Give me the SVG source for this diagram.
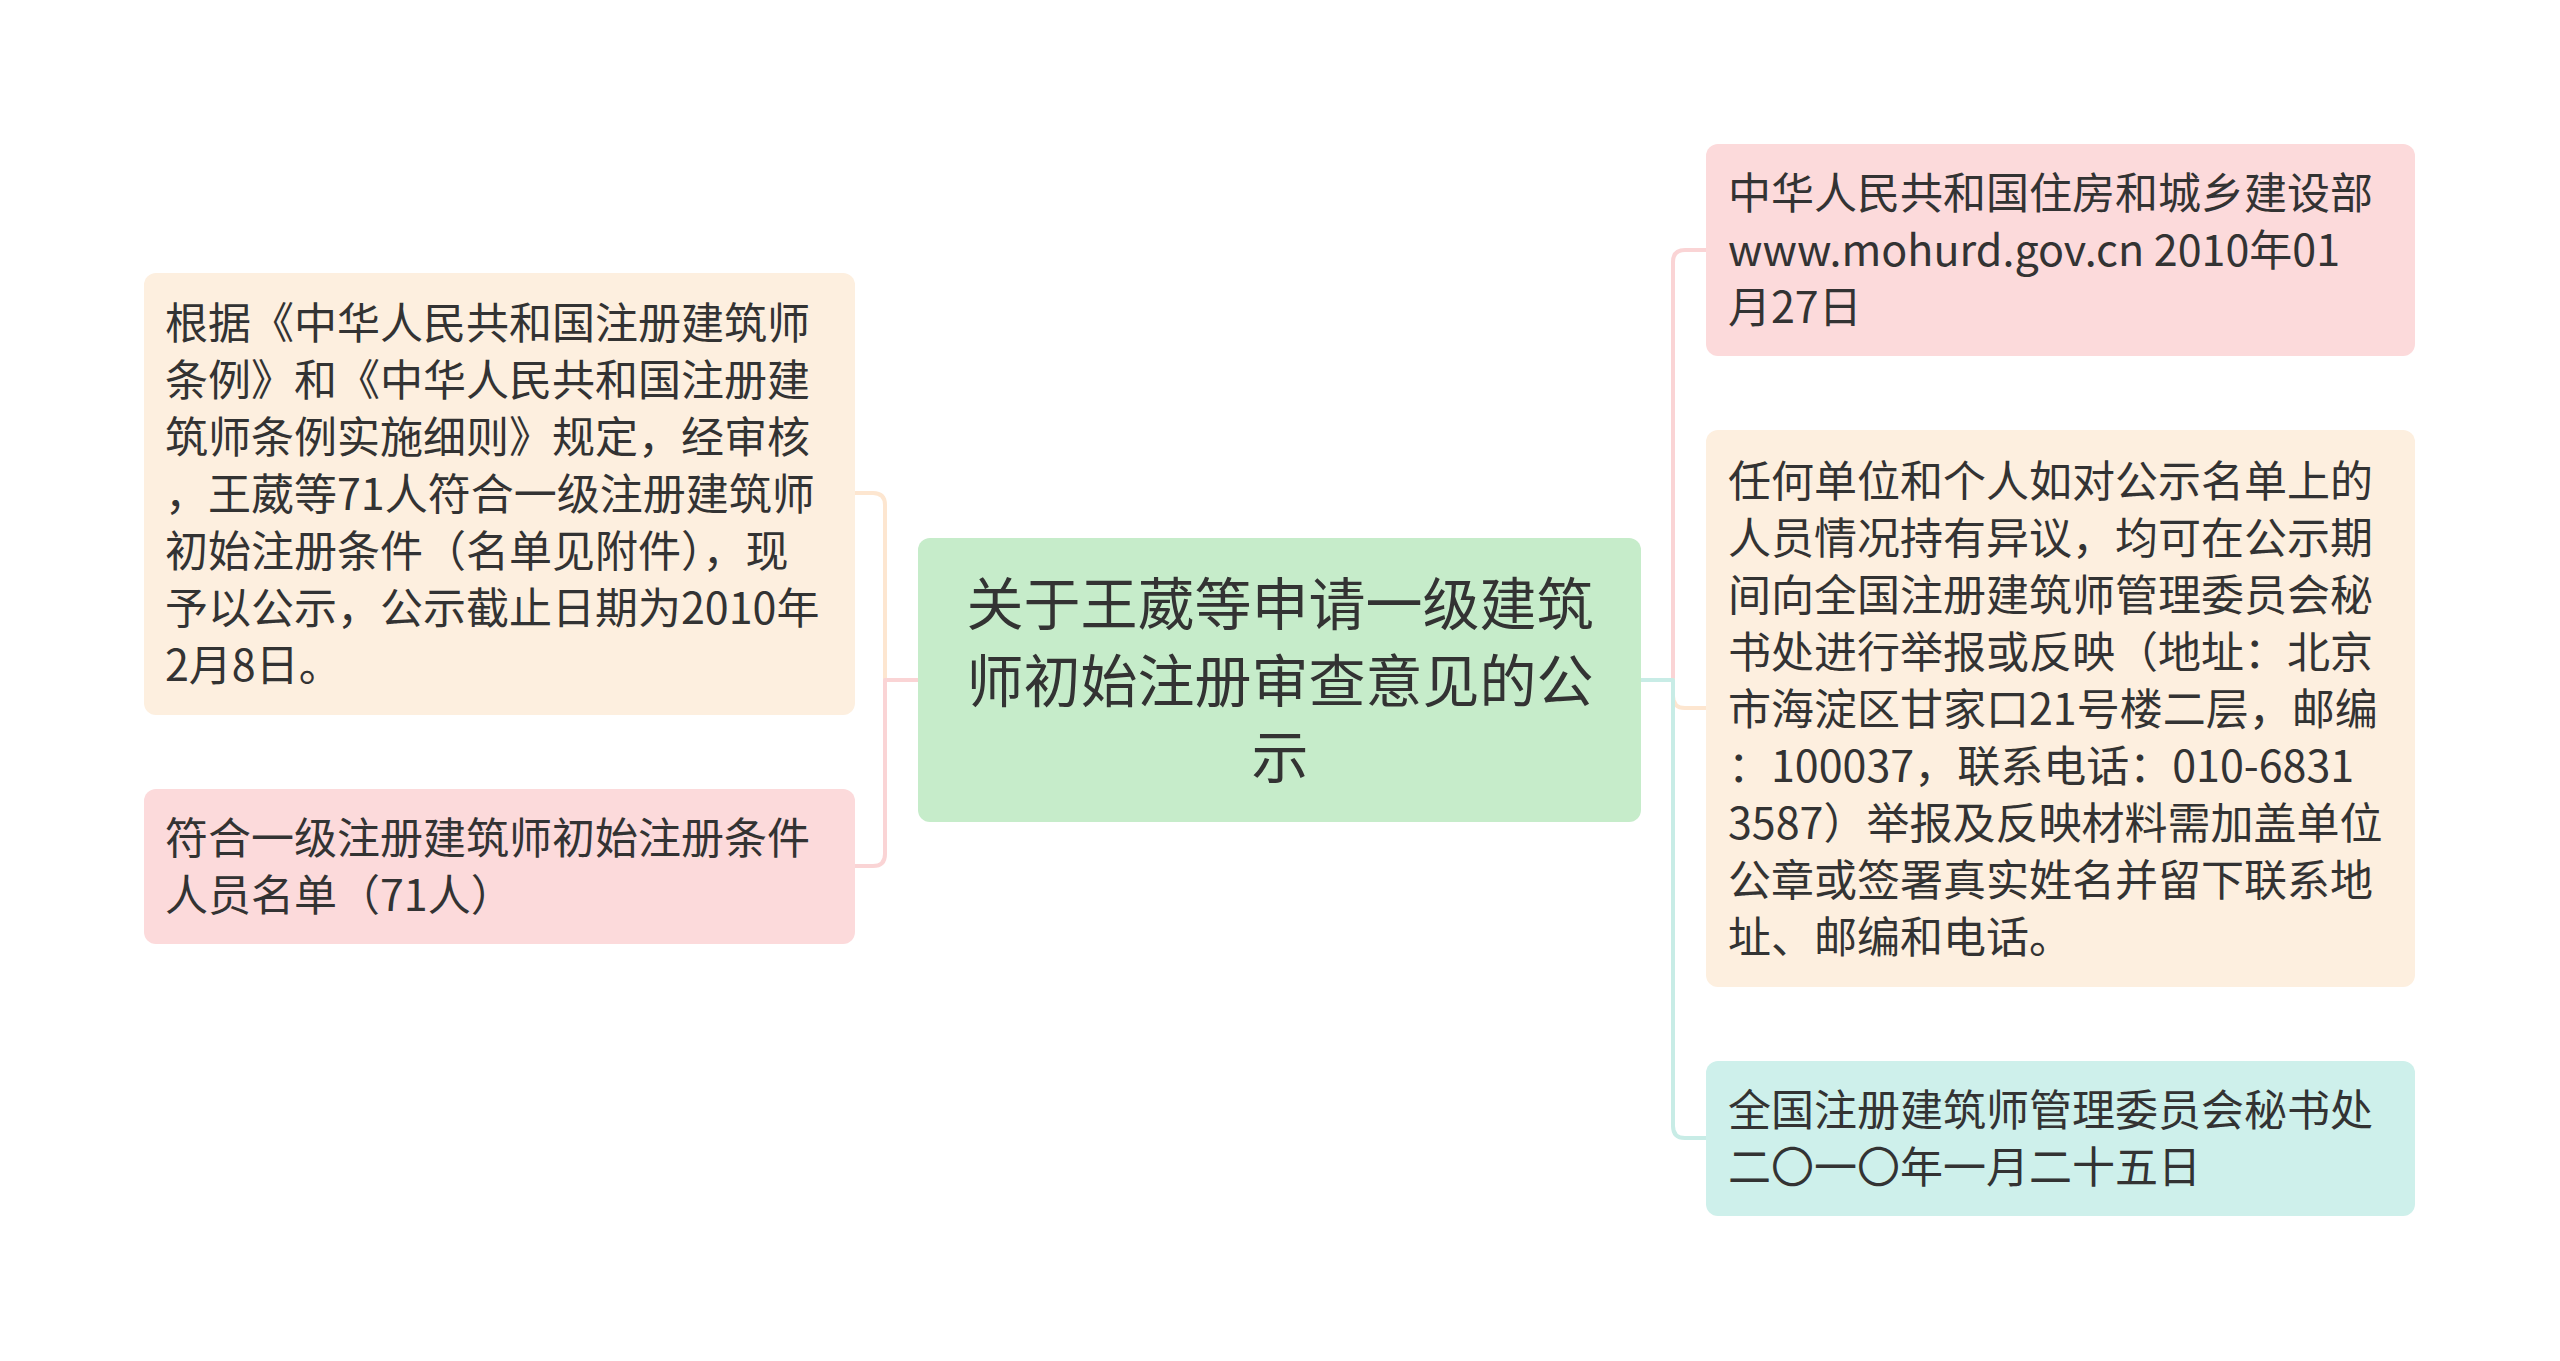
<svg xmlns="http://www.w3.org/2000/svg" width="2560" height="1361" viewBox="0 0 2560 1361">
<style>
.t{font-family:"Noto Sans CJK SC","Noto Sans",sans-serif;fill:#333333;font-size:43px}
.c{font-family:"Noto Sans CJK SC","Noto Sans",sans-serif;fill:#333333;font-size:57px;text-anchor:middle}
.ln{fill:none;stroke-width:4;stroke-linecap:round;stroke-linejoin:round}
</style>
<rect x="0" y="0" width="2560" height="1361" fill="#ffffff"/>
<g id="connectors">
<path class="ln" stroke="#fde6d0" d="M918,680 H885 V505 Q885,493 873,493 H854"/>
<path class="ln" stroke="#fad4d5" d="M918,680 H885 V854 Q885,866 873,866 H854"/>
<path class="ln" stroke="#fad4d5" d="M1641,680 H1673 V262 Q1673,250 1685,250 H1706"/>
<path class="ln" stroke="#fde6d0" d="M1641,680 H1673 V696 Q1673,708 1685,708 H1706"/>
<path class="ln" stroke="#c8ece6" d="M1641,680 H1673 V1126 Q1673,1138 1685,1138 H1706"/>
</g>
<g id="center">
<rect x="918" y="538" width="723" height="284" rx="12" fill="#c6ecca"/>
<text class="c" x="1280" y="625">关于王葳等申请一级建筑</text>
<text class="c" x="1280" y="701.5">师初始注册审查意见的公</text>
<text class="c" x="1280" y="778">示</text>
</g>
<g id="left1">
<rect x="144" y="273" width="711" height="442" rx="12" fill="#fdefdf"/>
<text class="t" x="165" y="339">根据《中华人民共和国注册建筑师</text>
<text class="t" x="165" y="396">条例》和《中华人民共和国注册建</text>
<text class="t" x="165" y="453">筑师条例实施细则》规定，经审核</text>
<text class="t" x="165" y="510">，王葳等71人符合一级注册建筑师</text>
<text class="t" x="165" y="567">初始注册条件（名单见附件），现</text>
<text class="t" x="165" y="624">予以公示，公示截止日期为2010年</text>
<text class="t" x="165" y="681">2月8日。</text>
</g>
<g id="left2">
<rect x="144" y="789" width="711" height="155" rx="12" fill="#fcdadb"/>
<text class="t" x="165" y="854">符合一级注册建筑师初始注册条件</text>
<text class="t" x="165" y="911">人员名单（71人）</text>
</g>
<g id="right1">
<rect x="1706" y="144" width="709" height="212" rx="12" fill="#fcdadb"/>
<text class="t" x="1728" y="209">中华人民共和国住房和城乡建设部</text>
<text class="t" x="1728" y="266">www.mohurd.gov.cn 2010年01</text>
<text class="t" x="1728" y="323">月27日</text>
</g>
<g id="right2">
<rect x="1706" y="430" width="709" height="557" rx="12" fill="#fdefdf"/>
<text class="t" x="1728" y="497">任何单位和个人如对公示名单上的</text>
<text class="t" x="1728" y="554">人员情况持有异议，均可在公示期</text>
<text class="t" x="1728" y="611">间向全国注册建筑师管理委员会秘</text>
<text class="t" x="1728" y="668">书处进行举报或反映（地址：北京</text>
<text class="t" x="1728" y="725">市海淀区甘家口21号楼二层，邮编</text>
<text class="t" x="1728" y="782">：100037，联系电话：010-6831</text>
<text class="t" x="1728" y="839">3587）举报及反映材料需加盖单位</text>
<text class="t" x="1728" y="896">公章或签署真实姓名并留下联系地</text>
<text class="t" x="1728" y="953">址、邮编和电话。</text>
</g>
<g id="right3">
<rect x="1706" y="1061" width="709" height="155" rx="12" fill="#cef0eb"/>
<text class="t" x="1728" y="1126">全国注册建筑师管理委员会秘书处</text>
<text class="t" x="1728" y="1183">二〇一〇年一月二十五日</text>
</g>
</svg>
